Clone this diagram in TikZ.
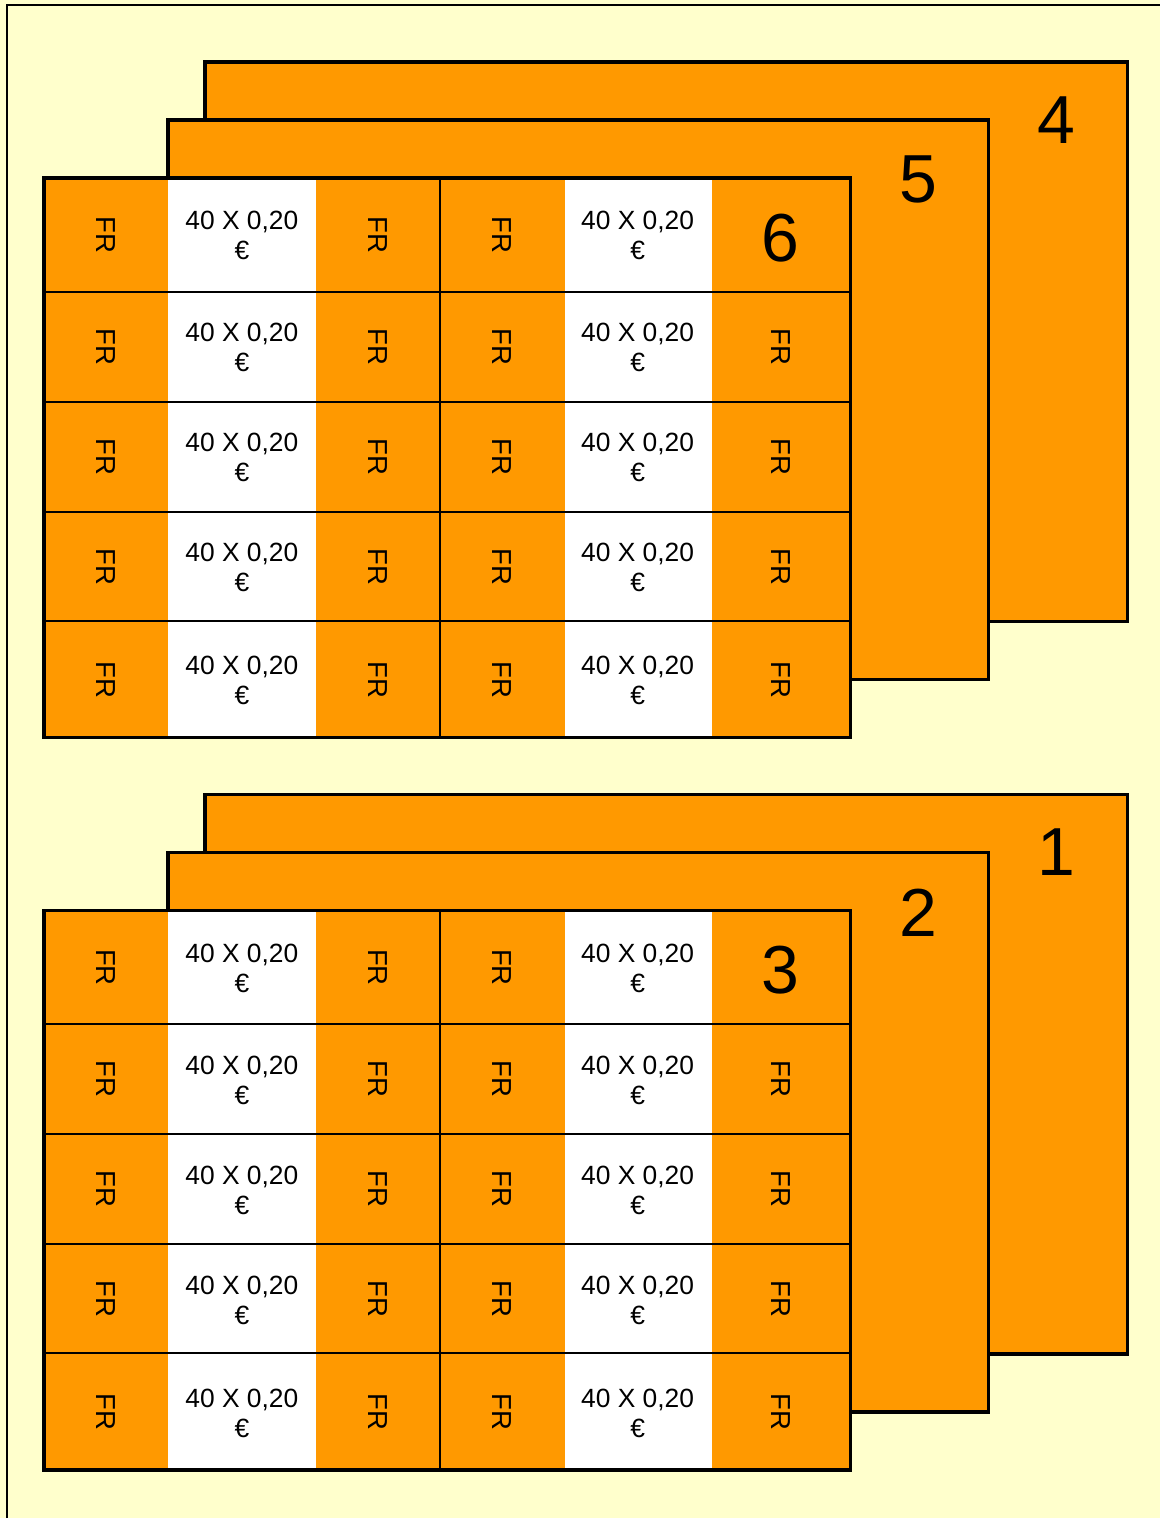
\documentclass[tikz,border=0pt]{standalone}
\usepackage{fontspec}
\setmainfont{Liberation Sans}
\usepackage{tikz}
\definecolor{naranja}{RGB}{255,153,0}
\definecolor{crema}{RGB}{255,255,204}

\tikzset{
  hoja/.style={draw=black,line width=3.3pt,fill=naranja},
  rejilla/.style={draw=black,line width=2pt},
  numero/.style={inner sep=0pt,font=\fontsize{68}{70}\selectfont},
  fr/.style={inner sep=0pt,rotate=-90,font=\fontsize{27.5}{30}\selectfont},
  precio/.style={inner sep=0pt,align=center,font=\fontsize{26.4}{30}\selectfont}
}

\begin{document}
\begin{tikzpicture}[x=1pt,y=-1pt]
\fill[crema] (0,0) rectangle (1161,1519);
\draw[rejilla] (7,1519) -- (7,5) -- (1161,5);
\foreach \dy/\a/\b/\c in {0/4/5/6,733/1/2/3}{
  \begin{scope}[shift={(0,\dy)}]
    % hojas de atras
    \draw[hoja] (205,62) rectangle (1128,622);
    \node[numero] (num\a) at (1057,120) {\a};
    \draw[hoja] (168,120) rectangle (989,680);
    \node[numero] (num\b) at (919,180) {\b};
    % hoja de delante
    \fill[naranja] (44,178) rectangle (851,738);
    \fill[white] (168,178) rectangle (316,738);
    \fill[white] (565,178) rectangle (712,738);
    \foreach \yy in {292,402,512,621}
      \draw[rejilla] (44,\yy) -- (851,\yy);
    \draw[rejilla] (440,178) -- (440,738);
    \draw[hoja,fill=none] (44,178) rectangle (851,738);
    \node[numero] (num\c) at (781,238) {\c};
    \foreach \yy [count=\f] in {235,347,457,567,680}{
      \foreach \xx [count=\k] in {106,378,502,781}{
        \ifnum\numexpr\f*10+\k\relax=14 \else
          \node[fr] (fr\c-\f-\k) at (\xx,\yy) {FR};
        \fi
      }
      \foreach \xx [count=\k] in {242,638}
        \node[precio] (p\c-\f-\k) at (\xx,\yy+1) {40 X 0,20\\€};
    }
  \end{scope}
}
\end{tikzpicture}
\end{document}
